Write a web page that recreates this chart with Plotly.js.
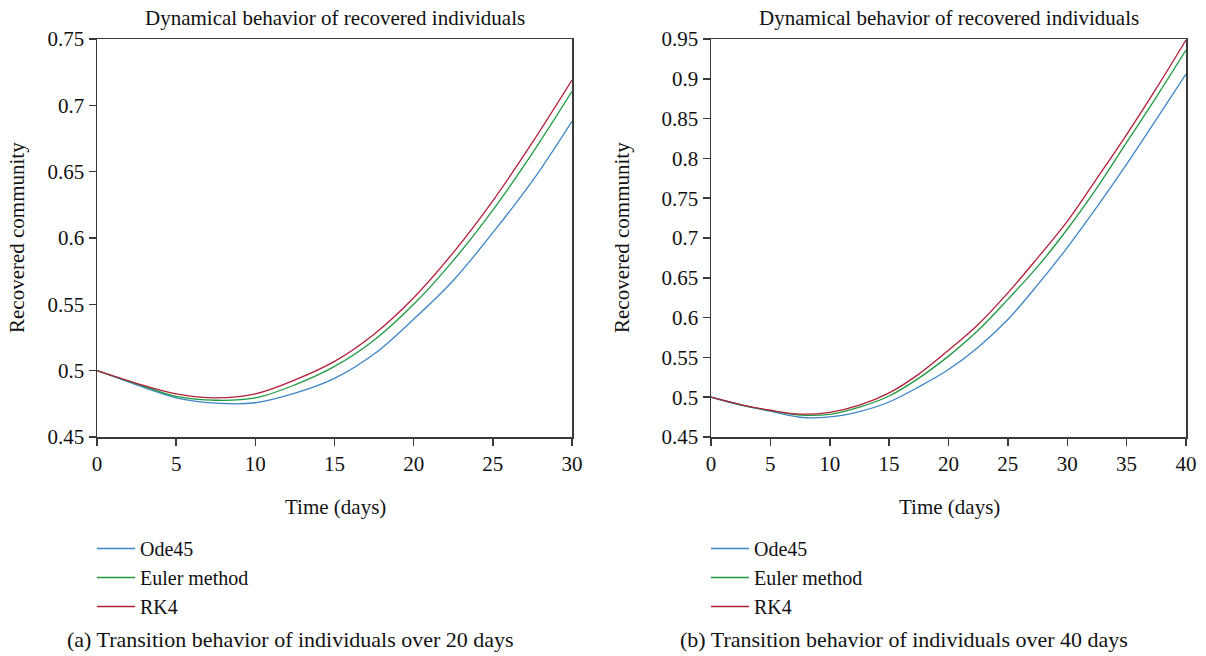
<!DOCTYPE html>
<html>
<head>
<meta charset="utf-8">
<script src="https://cdn.plot.ly/plotly-3.0.1.min.js"></script>
<style>html,body{margin:0;padding:0;background:#fff;}#chart{width:1206px;height:656px;}</style>
</head>
<body>
<div id="chart"></div>
<script>
// ---- Data ----
const seriesNames = ["Ode45", "Euler method", "RK4"];
const seriesColors = ["#3d85c6", "#1f9a40", "#b21f3b"];

// Panel (a): 0-30 days
const daysA = [0, 2.5, 5, 7.5, 10, 12.5, 15, 17.5, 20, 22.5, 25, 27.5, 30];
const ode45A = [0.5, 0.4893, 0.4795, 0.4755, 0.4758, 0.483, 0.4942, 0.5125, 0.5388, 0.568, 0.604, 0.643, 0.688];
const eulerA = [0.5, 0.490, 0.4807, 0.4777, 0.4795, 0.4893, 0.5032, 0.523, 0.550, 0.583, 0.621, 0.664, 0.7105];
const rk4A   = [0.5, 0.4905, 0.4825, 0.4795, 0.4825, 0.493, 0.507, 0.5275, 0.555, 0.589, 0.628, 0.672, 0.719];

// Panel (b): 0-40 days
const daysB = [0, 2.5, 5, 7.5, 10, 12.5, 15, 17.5, 20, 22.5, 25, 27.5, 30, 32.5, 35, 37.5, 40];
const ode45B = [0.5, 0.4900, 0.4824, 0.4748, 0.4752, 0.482, 0.494, 0.513, 0.5348, 0.5629, 0.5977, 0.641, 0.688, 0.739, 0.7927, 0.849, 0.906];
const eulerB = [0.5, 0.4905, 0.483, 0.4775, 0.4785, 0.4875, 0.5015, 0.524, 0.5516, 0.584, 0.6229, 0.664, 0.711, 0.763, 0.820, 0.877, 0.936];
const rk4B   = [0.5, 0.4908, 0.4836, 0.4788, 0.4810, 0.4900, 0.5054, 0.529, 0.559, 0.5914, 0.631, 0.675, 0.7208, 0.775, 0.830, 0.888, 0.9487];

// Tick labels
const xTicksA = [0, 5, 10, 15, 20, 25, 30];
const xTicksB = [0, 5, 10, 15, 20, 25, 30, 35, 40];
const yTicksA = [0.45, 0.5, 0.55, 0.6, 0.65, 0.7, 0.75];
const yTickTextA = ["0.45", "0.5", "0.55", "0.6", "0.65", "0.7", "0.75"];
const yTicksB = [0.45, 0.5, 0.55, 0.6, 0.65, 0.7, 0.75, 0.8, 0.85, 0.9, 0.95];
const yTickTextB = ["0.45", "0.5", "0.55", "0.6", "0.65", "0.7", "0.75", "0.8", "0.85", "0.9", "0.95"];

const panelTitle = "Dynamical behavior of recovered individuals";
const xTitle = "Time (days)";
const yTitle = "Recovered community";
const captionA = "(a) Transition behavior of individuals over 20 days";
const captionB = "(b) Transition behavior of individuals over 40 days";

// ---- Build ----
const W = 1206, H = 656;
const px = v => v / W;
const py = v => 1 - v / H;
const FONT = "Liberation Serif, Times New Roman, serif";
const FS = 21;

function mk(x, y, i, xa, ya, leg) {
  return {
    x: x, y: y, type: "scatter", mode: "lines", name: seriesNames[i],
    line: {color: seriesColors[i], width: 1.3, shape: "spline", smoothing: 1},
    xaxis: xa, yaxis: ya, legend: leg
  };
}

const traces = [
  mk(daysA, ode45A, 0, "x", "y", "legend"),
  mk(daysA, eulerA, 1, "x", "y", "legend"),
  mk(daysA, rk4A, 2, "x", "y", "legend"),
  mk(daysB, ode45B, 0, "x2", "y2", "legend2"),
  mk(daysB, eulerB, 1, "x2", "y2", "legend2"),
  mk(daysB, rk4B, 2, "x2", "y2", "legend2")
];

const axisCommon = {
  showgrid: false, zeroline: false, showline: true, mirror: true,
  linecolor: "#3a3a3a", linewidth: 1.5, ticks: "outside", ticklen: 7,
  tickwidth: 1.5, tickcolor: "#3a3a3a",
  tickfont: {family: FONT, size: FS, color: "#111"}
};

const yTop = py(39), yBot = py(437);

function ann(text, x, y, extra) {
  return Object.assign({text: text, x: px(x), y: py(y), xref: "paper", yref: "paper",
    showarrow: false, xanchor: "center", yanchor: "middle",
    font: {family: FONT, size: FS, color: "#111"}}, extra || {});
}

const legendCommon = {xanchor: "left", yanchor: "top", bgcolor: "rgba(0,0,0,0)",
  font: {family: FONT, size: 20, color: "#111"}, itemwidth: 38, tracegroupgap: 0};

const layout = {
  width: W, height: H,
  margin: {l: 0, r: 0, t: 0, b: 0},
  paper_bgcolor: "#fff", plot_bgcolor: "#fff",
  font: {family: FONT, size: FS, color: "#111"},
  xaxis: Object.assign({}, axisCommon, {domain: [px(97), px(572)], range: [0, 30], tickvals: xTicksA, anchor: "y"}),
  yaxis: Object.assign({}, axisCommon, {domain: [yBot, yTop], range: [0.45, 0.75], tickvals: yTicksA, ticktext: yTickTextA, anchor: "x"}),
  xaxis2: Object.assign({}, axisCommon, {domain: [px(711), px(1186)], range: [0, 40], tickvals: xTicksB, anchor: "y2"}),
  yaxis2: Object.assign({}, axisCommon, {domain: [yBot, yTop], range: [0.45, 0.95], tickvals: yTicksB, ticktext: yTickTextB, anchor: "x2"}),
  legend: Object.assign({}, legendCommon, {x: px(92), y: py(529)}),
  legend2: Object.assign({}, legendCommon, {x: px(706), y: py(529)}),
  showlegend: true,
  annotations: [
    ann(panelTitle, 335, 18),
    ann(panelTitle, 949, 18),
    ann(yTitle, 17, 238, {textangle: -90}),
    ann(yTitle, 622, 238, {textangle: -90}),
    ann(xTitle, 335, 507),
    ann(xTitle, 949, 507),
    ann(captionA, 290, 639, {font: {family: FONT, size: 22, color: "#111"}}),
    ann(captionB, 904, 639, {font: {family: FONT, size: 22, color: "#111"}})
  ]
};

Plotly.newPlot("chart", traces, layout, {displayModeBar: false, staticPlot: true});
</script>
</body>
</html>
